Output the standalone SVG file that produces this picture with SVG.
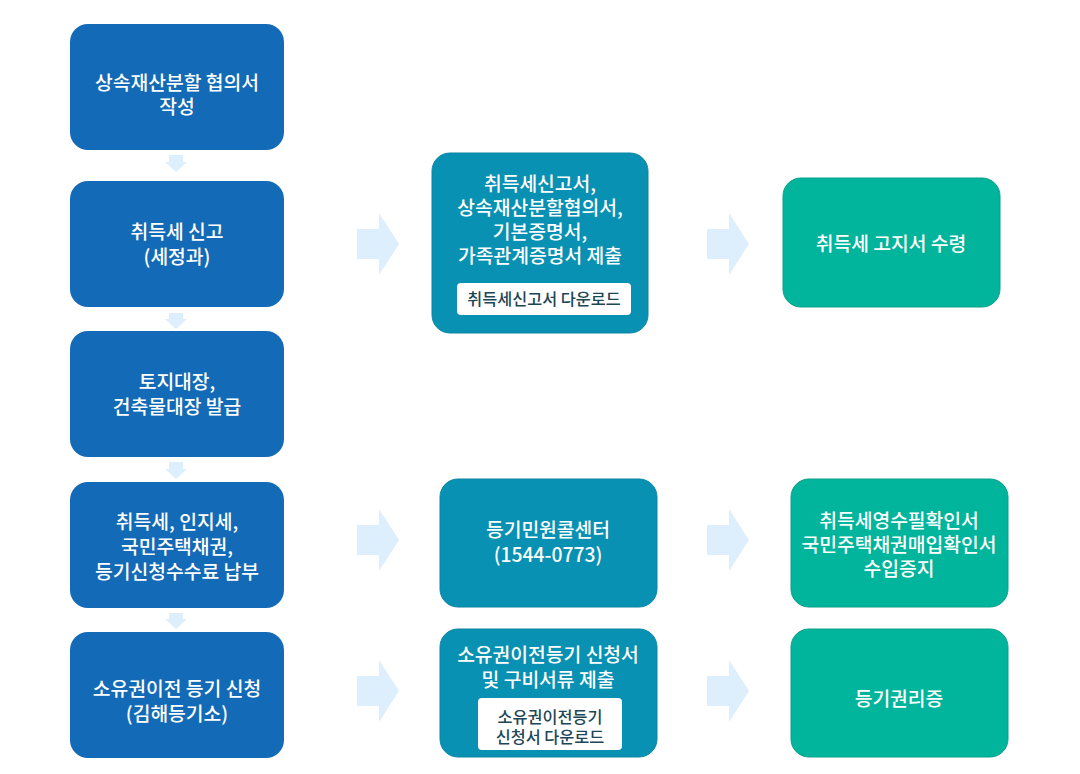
<svg xmlns="http://www.w3.org/2000/svg" width="1080" height="774" viewBox="0 0 1080 774">
<style>
.l{fill:#136AB6}
.m{fill:#0891B2;stroke:#0a86a4;stroke-width:1}
.r{fill:#00B59C;stroke:#0a9f88;stroke-width:1}
.btn{fill:#ffffff}
text{font-family:"Noto Sans CJK KR","Noto Sans",sans-serif;text-anchor:middle}
.t{fill:#ffffff;font-size:19.3px;font-weight:500}
.b{fill:#1d4656;font-size:16.3px;font-weight:500}
.a{fill:#DDEEFC}
</style>
<rect width="1080" height="774" fill="#ffffff"/>
<g id="connectors">
<path class="a" d="M169,155h14v7h4l-11,10l-11,-10h4z"/>
<path class="a" d="M169,313h14v6h4l-11,10l-11,-10h4z"/>
<path class="a" d="M169,462h14v7h4l-11,10l-11,-10h4z"/>
<path class="a" d="M169,613h14v6h4l-11,10l-11,-10h4z"/>
<path class="a" d="M357,229h22v-16l20,31l-20,31v-16h-22z"/>
<path class="a" d="M707,229h22v-16l20,31l-20,31v-16h-22z"/>
<path class="a" d="M357,525h22v-16l20,31l-20,31v-16h-22z"/>
<path class="a" d="M707,525h22v-16l20,31l-20,31v-16h-22z"/>
<path class="a" d="M357,676h22v-16l20,31l-20,31v-16h-22z"/>
<path class="a" d="M707,676h22v-16l20,31l-20,31v-16h-22z"/>
</g>
<g id="n1">
<rect class="l" x="70" y="24" width="214" height="126" rx="18"/>
<text class="t"><tspan x="177" y="90">상속재산분할 협의서</tspan><tspan x="177" y="114">작성</tspan></text>
</g>
<g id="n2">
<rect class="l" x="70" y="181" width="214" height="126" rx="18"/>
<text class="t"><tspan x="177" y="239">취득세 신고</tspan><tspan x="177" y="264">(세정과)</tspan></text>
</g>
<g id="n3">
<rect class="l" x="70" y="331" width="214" height="126" rx="18"/>
<text class="t"><tspan x="177" y="389">토지대장,</tspan><tspan x="177" y="414">건축물대장 발급</tspan></text>
</g>
<g id="n4">
<rect class="l" x="70" y="482" width="214" height="126" rx="18"/>
<text class="t"><tspan x="177" y="529">취득세, 인지세,</tspan><tspan x="177" y="554">국민주택채권,</tspan><tspan x="177" y="579">등기신청수수료 납부</tspan></text>
</g>
<g id="n5">
<rect class="l" x="70" y="632" width="214" height="126" rx="18"/>
<text class="t"><tspan x="177" y="696">소유권이전 등기 신청</tspan><tspan x="177" y="721">(김해등기소)</tspan></text>
</g>
<g id="m1">
<rect class="m" x="432" y="153" width="216" height="180" rx="18"/>
<text class="t"><tspan x="540" y="191">취득세신고서,</tspan><tspan x="540" y="215">상속재산분할협의서,</tspan><tspan x="540" y="239">기본증명서,</tspan><tspan x="540" y="263">가족관계증명서 제출</tspan></text>
<rect class="btn" x="457" y="283" width="174" height="32" rx="4"/>
<text class="b" x="544" y="305">취득세신고서 다운로드</text>
</g>
<g id="m2">
<rect class="m" x="440" y="479" width="217" height="128" rx="18"/>
<text class="t"><tspan x="548" y="537">등기민원콜센터</tspan><tspan x="548" y="562">(1544-0773)</tspan></text>
</g>
<g id="m3">
<rect class="m" x="440" y="629" width="217" height="128" rx="18"/>
<text class="t"><tspan x="548" y="662">소유권이전등기 신청서</tspan><tspan x="548" y="687">및 구비서류 제출</tspan></text>
<rect class="btn" x="478" y="698" width="144" height="52" rx="4"/>
<text class="b"><tspan x="550" y="723">소유권이전등기</tspan><tspan x="550" y="743">신청서 다운로드</tspan></text>
</g>
<g id="r1">
<rect class="r" x="783" y="178" width="217" height="129" rx="18"/>
<text class="t" x="891" y="251">취득세 고지서 수령</text>
</g>
<g id="r2">
<rect class="r" x="791" y="479" width="217" height="128" rx="18"/>
<text class="t"><tspan x="899" y="528">취득세영수필확인서</tspan><tspan x="899" y="552">국민주택채권매입확인서</tspan><tspan x="899" y="576">수입증지</tspan></text>
</g>
<g id="r3">
<rect class="r" x="791" y="629" width="217" height="128" rx="18"/>
<text class="t" x="899" y="706">등기권리증</text>
</g>
</svg>
